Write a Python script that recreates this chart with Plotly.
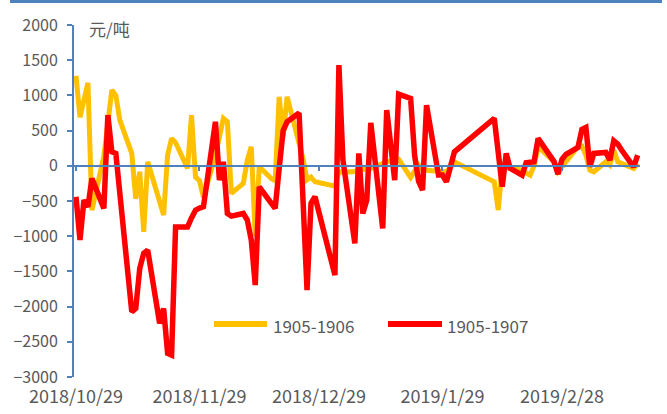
import plotly.graph_objects as go

# ---- data ----
series_names = ["1905-1906", "1905-1907"]

dates_1906 = [
    "2018-10-29", "2018-10-30", "2018-11-01", "2018-11-02", "2018-11-05", "2018-11-06",
    "2018-11-07", "2018-11-08", "2018-11-09", "2018-11-12", "2018-11-13", "2018-11-14",
    "2018-11-15", "2018-11-16", "2018-11-19", "2018-11-20", "2018-11-21", "2018-11-22",
    "2018-11-23", "2018-11-26", "2018-11-27", "2018-11-28", "2018-11-29", "2018-11-30",
    "2018-12-03", "2018-12-04", "2018-12-05", "2018-12-06", "2018-12-07", "2018-12-10",
    "2018-12-11", "2018-12-12", "2018-12-13", "2018-12-14", "2018-12-17", "2018-12-18",
    "2018-12-19", "2018-12-20", "2018-12-21", "2018-12-24", "2018-12-25", "2018-12-26",
    "2018-12-27", "2018-12-28", "2019-01-02", "2019-01-03", "2019-01-04", "2019-01-07",
    "2019-01-08", "2019-01-11", "2019-01-15", "2019-01-18", "2019-01-21", "2019-01-23",
    "2019-01-24", "2019-01-30", "2019-02-01", "2019-02-11", "2019-02-12", "2019-02-13",
    "2019-02-18", "2019-02-19", "2019-02-20", "2019-02-21", "2019-02-22", "2019-02-26",
    "2019-02-27", "2019-03-04", "2019-03-05", "2019-03-06", "2019-03-07", "2019-03-08",
    "2019-03-11", "2019-03-12", "2019-03-13", "2019-03-14", "2019-03-18", "2019-03-19",
]
values_1906 = [
    1280, 690, 1180, -630, 140, 600,
    1075, 1000, 649, 176, -470, -85,
    -937, 57, -487, -700, 152, 389,
    330, -37, 720, -160, -210, -450,
    150, 420, 673, 625, -392, -250,
    81, 270, -1000, -14, -180, -210,
    980, 412, 980, 320, 100, -200,
    -160, -227, -288, -85, -90, -80,
    -61, -37, 57, 91, -165, 10,
    -61, -85, 57, -227, -629, -14,
    -61, -100, -132, 0, 270, 57,
    -85, 270, 280, 150, -61, -85,
    57, 10, 223, 57, -37, 34,
]

dates_1907 = [
    "2018-10-29", "2018-10-30", "2018-10-31", "2018-11-01", "2018-11-02", "2018-11-05",
    "2018-11-06", "2018-11-07", "2018-11-08", "2018-11-09", "2018-11-12", "2018-11-13",
    "2018-11-14", "2018-11-15", "2018-11-16", "2018-11-19", "2018-11-20", "2018-11-21",
    "2018-11-22", "2018-11-23", "2018-11-26", "2018-11-27", "2018-11-28", "2018-11-29",
    "2018-11-30", "2018-12-03", "2018-12-04", "2018-12-05", "2018-12-06", "2018-12-07",
    "2018-12-10", "2018-12-11", "2018-12-12", "2018-12-13", "2018-12-14", "2018-12-17",
    "2018-12-18", "2018-12-19", "2018-12-20", "2018-12-21", "2018-12-24", "2018-12-25",
    "2018-12-26", "2018-12-27", "2018-12-28", "2019-01-02", "2019-01-03", "2019-01-04",
    "2019-01-07", "2019-01-08", "2019-01-09", "2019-01-10", "2019-01-11", "2019-01-14",
    "2019-01-15", "2019-01-16", "2019-01-17", "2019-01-18", "2019-01-21", "2019-01-22",
    "2019-01-23", "2019-01-24", "2019-01-25", "2019-01-28", "2019-01-29", "2019-01-30",
    "2019-01-31", "2019-02-01", "2019-02-11", "2019-02-12", "2019-02-13", "2019-02-14",
    "2019-02-15", "2019-02-18", "2019-02-19", "2019-02-20", "2019-02-21", "2019-02-22",
    "2019-02-25", "2019-02-26", "2019-02-27", "2019-02-28", "2019-03-01", "2019-03-04",
    "2019-03-05", "2019-03-06", "2019-03-07", "2019-03-08", "2019-03-11", "2019-03-12",
    "2019-03-13", "2019-03-14", "2019-03-15", "2019-03-18", "2019-03-19",
]
values_1907 = [
    -440, -1055, -487, -582, -179, -605,
    720, 199, 176, -390, -2074, -2026,
    -1457, -1244, -1197, -2239, -2026, -2665,
    -2689, -870, -870, -740, -630, -600,
    -582, 625, -203, 57, -677, -714,
    -677, -771, -1055, -1694, -298, -530,
    -605, -40, 500, 625, 750, -500,
    -1766, -534, -440, -1553, 1430, 85,
    -1103, 176, -677, -487, 610, -889,
    791, 300, -203, 1018, 957, 150,
    -220, -345, 862, -132, -132, -227,
    -10, 199, 673, 150, -298, 176,
    -37, -132, 43, 50, 57, 389,
    150, 60, -118, 91, 162, 260,
    517, 545, -14, 176, 190, 81,
    355, 308, 220, -14, 152,
]

tick_dates = ["2018-10-29", "2018-11-29", "2018-12-29", "2019-01-29", "2019-02-28"]
tick_labels = ["2018/10/29", "2018/11/29", "2018/12/29", "2019/1/29", "2019/2/28"]
y_ticks = list(range(-3000, 2001, 500))
unit_label = "元/吨"

# ---- styling ----
FONT = "Noto Sans CJK SC, Noto Sans, sans-serif"
GREY = "#595959"
BLUE = "#4F81BD"
colors = ["#FFC000", "#FF0000"]
W, H = 667, 414
L, R, T, B = 74, 27, 25, 37
x_range = ["2018-10-28 12:00", "2019-03-19 14:00"]

fig = go.Figure()
fig.add_trace(go.Scatter(x=dates_1906, y=values_1906, mode="lines", name=series_names[0],
                         line=dict(color=colors[0], width=5), showlegend=False))
fig.add_trace(go.Scatter(x=dates_1907, y=values_1907, mode="lines", name=series_names[1],
                         line=dict(color=colors[1], width=5.5), showlegend=False))
# empty trace so the overlay axis at y=0 is drawn
fig.add_trace(go.Scatter(x=[], y=[], xaxis="x2", yaxis="y", showlegend=False, hoverinfo="skip"))

fig.update_layout(
    width=W, height=H,
    margin=dict(l=L, r=R, t=T, b=B, autoexpand=False),
    paper_bgcolor="white", plot_bgcolor="white",
    font=dict(family=FONT, color=GREY),
    xaxis=dict(type="date", range=x_range, tickvals=tick_dates, ticktext=tick_labels,
               showgrid=False, zeroline=False, showline=False, ticks="", automargin=False,
               tickfont=dict(size=18, color=GREY, family=FONT), ticklabelstandoff=7),
    xaxis2=dict(type="date", range=x_range, overlaying="x", anchor="free", position=0.6,
                tickvals=tick_dates, showticklabels=False, showgrid=False, zeroline=False,
                showline=True, linecolor=BLUE, linewidth=2, automargin=False,
                ticks="outside", ticklen=4, tickwidth=1.5, tickcolor=BLUE),
    yaxis=dict(range=[-3000, 2000], tickvals=y_ticks, showgrid=False, zeroline=False,
               showline=True, linecolor=BLUE, linewidth=2, automargin=False,
               ticks="outside", ticklen=5, tickwidth=1.5, tickcolor=BLUE,
               tickfont=dict(size=16, color=GREY, family=FONT), ticklabelstandoff=6),
)

pw = W - L - R
ph = H - T - B
def px(xp):
    return (xp - L) / pw
def py(yp):
    return (H - B - yp) / ph

shapes = [
    dict(type="rect", xref="paper", yref="paper", x0=px(10), x1=px(662), y0=py(3), y1=py(0),
         fillcolor=BLUE, line=dict(width=0)),
    dict(type="line", xref="paper", yref="paper", x0=px(214), x1=px(267), y0=py(324), y1=py(324),
         line=dict(color=colors[0], width=6)),
    dict(type="line", xref="paper", yref="paper", x0=px(388), x1=px(442), y0=py(324), y1=py(324),
         line=dict(color=colors[1], width=6)),
]
annotations = [
    dict(text=unit_label, xref="paper", yref="paper", x=px(87), y=py(29), xanchor="left",
         yanchor="middle", showarrow=False, font=dict(size=17, color=GREY, family=FONT)),
    dict(text=series_names[0], xref="paper", yref="paper", x=px(271), y=py(325), xanchor="left",
         yanchor="middle", showarrow=False, font=dict(size=17, color=GREY, family=FONT)),
    dict(text=series_names[1], xref="paper", yref="paper", x=px(445), y=py(325), xanchor="left",
         yanchor="middle", showarrow=False, font=dict(size=17, color=GREY, family=FONT)),
]
fig.update_layout(shapes=shapes, annotations=annotations)

fig.write_html(
    "out.html",
    config={"displayModeBar": False},
    post_script="document.body.style.margin='0';document.body.style.overflow='hidden';",
)
